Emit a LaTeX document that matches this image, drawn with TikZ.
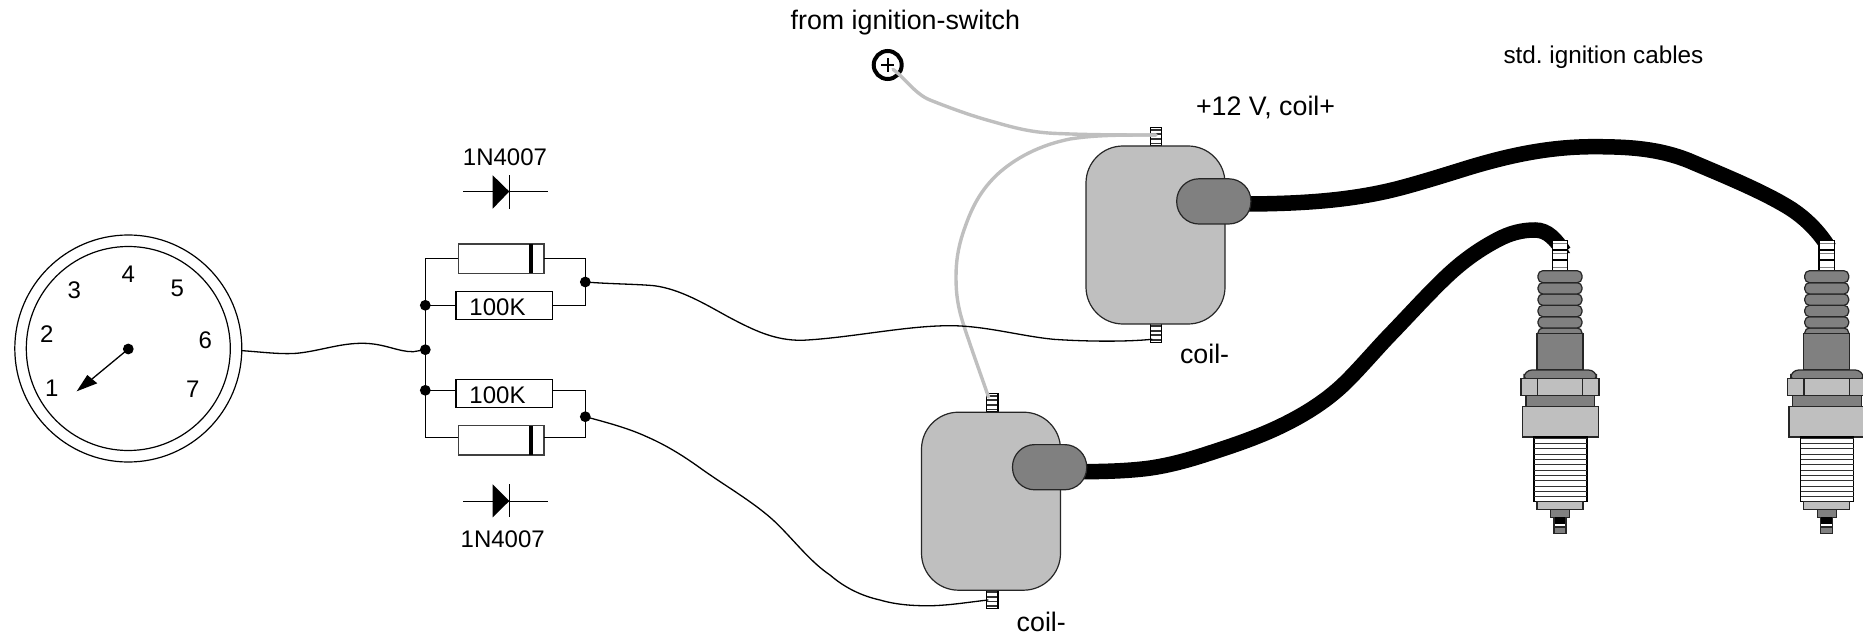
\documentclass[tikz,border=0pt]{standalone}
\usepackage{fontspec}
\setmainfont{Liberation Sans}
\frenchspacing
\definecolor{lgr}{HTML}{BFBFBF}
\definecolor{dgr}{HTML}{808080}
\tikzset{
  lbl/.style={inner sep=0pt,outer sep=0pt,anchor=base,text=black,font=\fontsize{24bp}{26bp}\selectfont},
  lblw/.style={inner sep=0pt,outer sep=0pt,anchor=base west,text=black,font=\fontsize{26.8bp}{28bp}\selectfont},
  ln/.style={draw=black,line width=1.3bp},
  thinwire/.style={draw=black,line width=1.3bp,line cap=round},
  greywire/.style={draw=lgr,line width=3.4bp,line cap=round},
  cable/.style={draw=black,line width=15.5bp},
  dotn/.style={circle,fill=black,inner sep=0pt,outer sep=0pt,minimum size=10.8bp},
  resbox/.style={rectangle,draw=black,fill=white,line width=1.3bp,inner sep=0pt,outer sep=0pt,minimum width=96.7bp,minimum height=28.2bp},
  diodebox/.style={rectangle,draw=black!75,fill=white,line width=1.2bp,inner sep=0pt,outer sep=0pt,minimum width=85.7bp,minimum height=29.3bp},
  part/.style={draw=black!85,line width=1.2bp},
  coilbody/.style={rectangle,draw=black!85,fill=lgr,line width=1.2bp,rounded corners=37bp,inner sep=0pt,minimum width=139bp,minimum height=178bp},
  coilcap/.style={rectangle,draw=black!85,fill=dgr,line width=1.2bp,rounded corners=22.2bp,inner sep=0pt,minimum width=74.2bp,minimum height=45.2bp},
  terminal/.pic={
    \fill[white] (-5.8,0) rectangle (5.8,18.6);
    \foreach \k in {2.3,6.9,11.5,16.1}{\draw[black!80,line width=1.7bp] (-5.8,\k) -- (5.8,\k);}
    \draw[black,line width=1.2bp] (-5.8,0) rectangle (5.8,18.6);
  },
  sparkplug/.pic={
    % connector
    \filldraw[fill=white,draw=black,line width=1.2bp] (-7.7,240.7) rectangle (7.7,270.7);
    \draw[black,line width=1.6bp] (-7.7,250) -- (7.7,250) (-7.7,260) -- (7.7,260);
    \draw[dgr,line width=1bp] (-7,244) -- (7,244) (-7,253) -- (7,253) (-7,267) -- (7,267);
    % ribs
    \foreach \a/\b in {328/338,316.7/328,305.3/316.7,294/305.3,282.7/294,270.7/282.7}{
      \filldraw[part,fill=dgr,rounded corners=4.8bp] (-22,\a) rectangle (22,\b);
    }
    \filldraw[part,fill=dgr] (-23,333.3) rectangle (23,370);
    \filldraw[part,fill=dgr,rounded corners=8bp] (-36,382) -- (-36,370) -- (36.5,370) -- (36.5,382) -- cycle;
    \filldraw[part,fill=dgr] (-34,390) rectangle (34.7,406.7);
    \filldraw[part,fill=lgr] (-39,378.7) rectangle (39,395.3);
    \draw[part] (-22.7,378.7) -- (-22.7,395.3) (22.7,378.7) -- (22.7,395.3);
    \filldraw[part,fill=lgr] (-37.7,406.7) rectangle (38.3,437);
    % thread
    \filldraw[draw=black,fill=white,line width=1.1bp] (-26,437) rectangle (27,501.7);
    \foreach \k in {0,...,11}{\draw[black!80,line width=.75bp] (-26,{438+\k*5.33}) -- (27,{438+\k*5.33});}
    \filldraw[part,fill=lgr] (-23,501.7) rectangle (23,509.3);
    \filldraw[part,fill=dgr] (-9.5,509.3) rectangle (9.5,517.3);
    \fill[black] (-6,517.3) rectangle (6,524);
    \fill[white] (-6,524) rectangle (6,527);
    \filldraw[part,fill=dgr] (-6,527) rectangle (6,533.3);
    \draw[part] (-6,517.3) -- (-6,533.3) (6,517.3) -- (6,533.3);
  }
}
\begin{document}
\begin{tikzpicture}[x=1bp,y=-1bp]
\useasboundingbox (0,0) rectangle (1863,633);
\clip (0,0) rectangle (1863,633);

% named ends
\coordinate (c1start) at (1245,204);
\coordinate (c1end) at (1829,248);
\coordinate (c2start) at (1080,471.7);
\coordinate (c2end) at (1564,252);
\coordinate (coilAplus) at (1156,135);
\coordinate (coilAminus) at (1152,339.3);
\coordinate (coilBplus) at (988.5,397);
\coordinate (coilBminus) at (988,600);

% gauge
\node[circle,draw=black,line width=1.2bp,minimum size=227bp,inner sep=0pt] (gaugeouter) at (128.3,348.5) {};
\node[circle,draw=black,line width=1.2bp,minimum size=204bp,inner sep=0pt] (gaugeinner) at (128.3,348.5) {};
\node[lbl] (g1) at (51.7,396) {1};
\node[lbl] (g2) at (46.7,342.7) {2};
\node[lbl] (g3) at (74.3,298.7) {3};
\node[lbl] (g4) at (128.3,282.7) {4};
\node[lbl] (g5) at (177.3,296) {5};
\node[lbl] (g6) at (205.3,348.3) {6};
\node[lbl] (g7) at (192.7,397.7) {7};
\node[dotn] (hub) at (128.3,349) {};
\coordinate (tip) at (76.7,391.3);
\coordinate (barbA) at (87.3,375);
\coordinate (barbB) at (97.3,383.3);
\draw[ln] (hub.center) -- (92,379);
\fill[black] (tip) -- (barbA) -- (barbB) -- cycle;

% resistors and diodes
\node[diodebox] (dtop) at (501.2,258.7) {};
\node[resbox] (rtop) at (504.3,305.3) {};
\node[resbox] (rbot) at (504.3,393.5) {};
\node[diodebox] (dbot) at (501.2,440.3) {};
\fill[black] (528.7,244) rectangle (532.7,273.3);
\fill[black] (528.7,425.7) rectangle (532.7,455);
\node[lbl] (t100a) at (497.5,315) {100K};
\node[lbl] (t100b) at (497.5,403) {100K};

\node[dotn] (n1) at (425.3,305.3) {};
\node[dotn] (n2) at (425.3,349.7) {};
\node[dotn] (n3) at (425.3,390.3) {};
\node[dotn] (n4) at (585.3,282) {};
\node[dotn] (n5) at (585.3,416.7) {};

\draw[ln] (dtop.west |- 0,258.5) -- (425.5,258.5) -- (425.5,437.5) -- (dbot.west |- 0,437.5);
\draw[ln] (425.5,305.5) -- (rtop.west |- 0,305.5);
\draw[ln] (425.5,390.5) -- (rbot.west |- 0,390.5);
\draw[ln] (dtop.east |- 0,258.5) -- (585.5,258.5) -- (585.5,305.5) -- (rtop.east |- 0,305.5);
\draw[ln] (rbot.east |- 0,390.5) -- (585.5,390.5) -- (585.5,437.5) -- (dbot.east |- 0,437.5);

% diode symbols
\coordinate (d1a) at (463.3,191.5); \coordinate (d1b) at (548.3,191.5);
\draw[ln] (d1a) -- (d1b);
\fill[black] (492.7,175.3) -- (509.3,191.5) -- (492.7,208.7) -- cycle;
\draw[ln] (509.3,175.3) -- (509.3,208.7);
\coordinate (d2a) at (463.3,501.5); \coordinate (d2b) at (548.3,501.5);
\draw[ln] (d2a) -- (d2b);
\fill[black] (492.7,484.3) -- (509.3,501) -- (492.7,517.3) -- cycle;
\draw[ln] (509.3,484.3) -- (509.3,517.3);
\node[lbl] (dl1) at (505,165.5) {1N4007};
\node[lbl] (dl2) at (502.7,547) {1N4007};

% black HT cables
\draw[cable] (c1start) -- (1251,204) .. controls (1300,203.5) and (1350,201) .. (1399,188.3)
  .. controls (1420,182.8) and (1445,175) .. (1466.5,168.3)
  .. controls (1510,155) and (1550,146.7) .. (1593.6,146.7)
  .. controls (1630,146.7) and (1659,148.7) .. (1689,160.7)
  .. controls (1720,174) and (1760,190) .. (1788,207)
  .. controls (1806,218) and (1820,233) .. (c1end);
\draw[cable] (c2start) -- (1085,471.7) .. controls (1105,471.5) and (1126,471) .. (1147,468.5)
  .. controls (1170,465.5) and (1192,459) .. (1213,452)
  .. controls (1236,444.5) and (1258,437) .. (1280,426.5)
  .. controls (1305,414.5) and (1328,400) .. (1347,381)
  .. controls (1362,366) and (1378,347) .. (1393,331.7)
  .. controls (1410,314) and (1430,292) .. (1447,276)
  .. controls (1464,260) and (1480,249) .. (1497,240)
  .. controls (1510,233) and (1522,230) .. (1535,230)
  .. controls (1548,230) and (1556,240) .. (c2end);
\fill[black] (1566,246) -- (1570,253) -- (1566,253) -- cycle;

% spark plugs
\path (1560,0) pic {sparkplug};
\path (1826.7,0) pic {sparkplug};

% coils
\path (1156,127.4) pic {terminal};
\path (1156,323.8) pic {terminal};
\path (992.2,393.4) pic {terminal};
\path (992.2,590) pic {terminal};
\node[coilbody] (coilA) at (1155.5,235) {};
\node[coilcap] (capA) at (1213.8,201.4) {};
\node[coilbody] (coilB) at (991,501.2) {};
\node[coilcap] (capB) at (1049.6,467.2) {};

% grey supply wires
\node[circle,draw=black,line width=4bp,minimum size=28bp,inner sep=0pt] (plus) at (887.7,65) {};
\draw[black,line width=1.8bp] (881,65) -- (894.4,65) (887.7,58.3) -- (887.7,71.7);
\draw[greywire] (893,69.3) .. controls (905,78) and (915,94) .. (930,100)
  .. controls (950,108) and (972,116) .. (993,121.7)
  .. controls (1015,128) and (1030,132) .. (1053,133.3)
  .. controls (1090,135) and (1125,135) .. (coilAplus);
\draw[greywire] (coilAplus) .. controls (1120,135) and (1095,135) .. (1070,139)
  .. controls (1040,145) and (1015,158) .. (996.7,175)
  .. controls (978,193) and (970,212) .. (963,233)
  .. controls (958,248) and (956,262) .. (956,276.7)
  .. controls (956,295) and (958,307) .. (963,323)
  .. controls (970,345) and (982,378) .. (coilBplus);

% thin signal wires
\draw[thinwire] (gaugeouter.east |- 0,350.7) .. controls (262,352) and (280,354.5) .. (296.7,353.3)
  .. controls (320,351) and (340,343) .. (363.3,343.3)
  .. controls (385,343.5) and (398,352) .. (413.3,351.7)
  -- (n2.center);
\draw[thinwire] (n4.center) .. controls (610,284) and (635,284) .. (654,285.7)
  .. controls (680,289) and (705,304) .. (728,316.7)
  .. controls (755,331) and (775,340.5) .. (802,340.3)
  .. controls (850,338) and (905,325.7) .. (950,325.7)
  .. controls (985,325.7) and (1020,336) .. (1053.5,339.3)
  .. controls (1085,341.5) and (1125,342) .. (coilAminus);
\draw[thinwire] (n5.center) .. controls (605,422) and (628,428) .. (646.7,436.7)
  .. controls (668,446) and (685,457) .. (703,470)
  .. controls (730,489) and (760,506) .. (780,526.7)
  .. controls (797,544) and (812,563) .. (830,575)
  .. controls (845,588) and (862,596) .. (880,600)
  .. controls (897,605) and (915,606) .. (933,605.7)
  .. controls (952,605) and (970,602) .. (coilBminus);

% labels
\node[lblw] (tfrom) at (790.7,30) {from ignition-switch};
\node[lblw] (t12) at (1196,116) {+12 V, coil+};
\node[lblw] (tc1) at (1180,363.3) {coil-};
\node[lblw] (tc2) at (1016.7,631) {coil-};
\node[lblw,font=\fontsize{24.3bp}{26bp}\selectfont] (tstd) at (1503.5,63.5) {std. ignition cables};
\end{tikzpicture}
\end{document}
